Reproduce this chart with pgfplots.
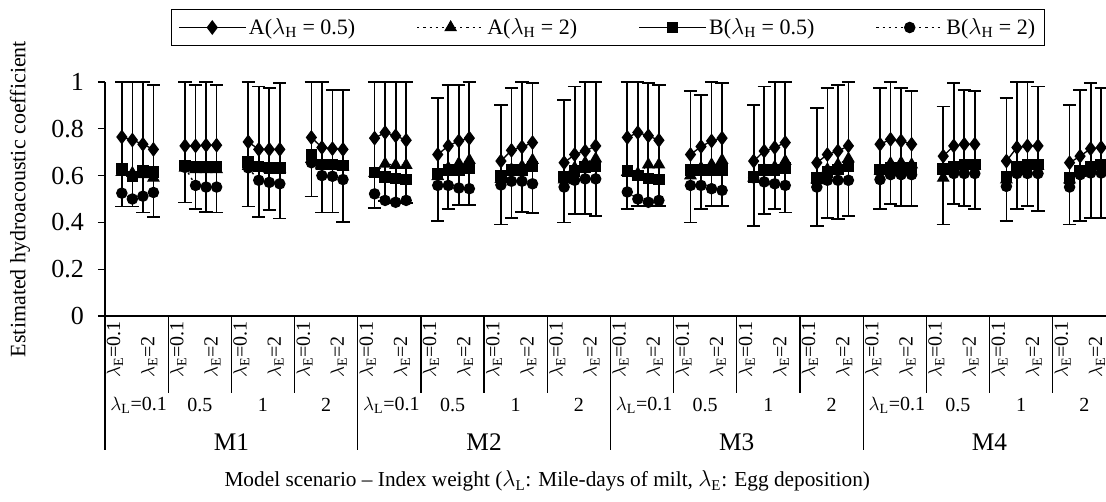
\documentclass[border=0pt]{standalone}
\usepackage{pgfplots}
\usepackage{pgfplotstable}
\pgfplotsset{compat=1.18}
\usepackage{fontspec}
\setmainfont{Liberation Serif}

\pgfplotstableread{
x A05 A2 B05 B2 lo hi
1.6 .765 .615 .630 .525 .468 1.0
2.6 .752 .610 .597 .500 .468 1.0
3.6 .734 .605 .619 .512 .442 1.0
4.6 .712 .590 .615 .528 .424 .988
5.0 nan nan nan nan nan nan
7.6 .727 .633 .643 .635 .485 1.0
8.6 .727 .626 .640 .558 .456 .988
9.6 .730 .626 .640 .551 .446 1.0
10.6 .730 .626 .640 .551 .442 .988
11.0 nan nan nan nan nan nan
13.6 .744 .640 .658 .633 .468 1.0
14.6 .712 .633 .640 .580 .424 .981
15.6 .712 .629 .633 .571 .453 .974
16.6 .712 .629 .633 .565 .417 .996
17.0 nan nan nan nan nan nan
19.6 .763 .670 .690 .655 .511 1.0
20.6 .720 .640 .647 .600 .442 1.0
21.6 .715 .640 .647 .597 .442 .967
22.6 .712 .637 .643 .583 .403 .967
23.0 nan nan nan nan nan nan
25.6 .760 .610 .614 .522 .463 1.0
26.6 .784 .650 .594 .494 .492 1.0
27.6 .770 .645 .587 .486 .482 1.0
28.6 .751 .645 .583 .494 .482 1.0
29.0 nan nan nan nan nan nan
31.6 .690 .597 .607 .558 .406 .931
32.6 .727 .633 .623 .558 .456 .988
33.6 .748 .652 .623 .547 .475 .988
34.6 .760 .666 .630 .544 .475 1.0
35.0 nan nan nan nan nan nan
37.6 .662 .585 .600 .560 .391 .902
38.6 .708 .626 .623 .576 .420 .974
39.6 .722 .640 .623 .576 .446 1.0
40.6 .741 .666 .640 .565 .439 .996
41.0 nan nan nan nan nan nan
43.6 .655 .583 .597 .551 .399 .924
44.6 .690 .633 .619 .580 .435 .981
45.6 .705 .655 .636 .586 .435 1.0
46.6 .727 .672 .640 .586 .427 1.0
47.0 nan nan nan nan nan nan
49.6 .763 .615 .619 .530 .456 1.0
50.6 .784 .609 .600 .500 .470 1.0
51.6 .770 .647 .587 .486 .470 .996
52.6 .751 .647 .583 .494 .470 .988
53.0 nan nan nan nan nan nan
55.6 .690 .600 .623 .558 .399 .960
56.6 .724 .633 .623 .558 .456 .945
57.6 .748 .647 .623 .544 .470 1.0
58.6 .760 .666 .623 .537 .470 .996
59.0 nan nan nan nan nan nan
61.6 .662 .590 .594 .590 .384 .902
62.6 .705 .626 .623 .573 .435 .981
63.6 .720 .637 .623 .565 .456 1.0
64.6 .741 .662 .633 .558 .442 1.0
65.0 nan nan nan nan nan nan
67.6 .655 .583 .590 .551 .384 .888
68.6 .690 .626 .616 .580 .420 .974
69.6 .705 .647 .626 .580 .413 .988
70.6 .727 .672 .640 .580 .427 1.0
71.0 nan nan nan nan nan nan
73.6 .734 .620 .626 .583 .456 .974
74.6 .755 .652 .633 .604 .478 1.0
75.6 .748 .655 .633 .604 .470 .974
76.6 .734 .647 .633 .604 .470 .960
77.0 nan nan nan nan nan nan
79.6 .683 .590 .629 .625 .391 .895
80.6 .727 .633 .640 .609 .478 .996
81.6 .734 .640 .647 .609 .470 .967
82.6 .734 .640 .647 .609 .456 .960
83.0 nan nan nan nan nan nan
85.6 .662 .583 .597 .554 .406 .931
86.6 .720 .633 .640 .609 .456 1.0
87.6 .727 .640 .647 .609 .470 1.0
88.6 .727 .640 .647 .609 .449 .981
89.0 nan nan nan nan nan nan
91.6 .655 .583 .590 .551 .391 .902
92.6 .683 .612 .619 .604 .406 .967
93.6 .715 .633 .640 .611 .420 .996
94.6 .720 .640 .647 .611 .420 .974
}\data

\begin{document}
\begin{tikzpicture}
\begin{axis}[
  scale only axis, width=750.75pt, height=175.5pt,
  xmin=0, xmax=95.06, ymin=0, ymax=1,
  axis lines*=left, axis line style={line width=1pt},
  xtick=\empty,
  ytick={0,0.2,0.4,0.6,0.8,1},
  tick align=outside, major tick length=5.25pt,
  tick style={line width=1pt, black},
  /pgf/number format/assume math mode=true,
  yticklabel style={font=\fontsize{19.5}{22}\selectfont, xshift=-7pt},
  clip=false,
  unbounded coords=jump,
  legend columns=4,
  legend style={at={(0.5025,1.2329)}, anchor=center, draw=black, line width=0.8pt,
    font=\fontsize{16.5}{19}\selectfont, inner xsep=5pt, inner ysep=5pt,
    /tikz/every even column/.append style={column sep=44pt}},
  legend image code/.code={\draw[mark repeat=2,mark phase=2] plot coordinates {(0pt,0pt)(25pt,0pt)(50pt,0pt)};},
  every axis plot/.append style={black, line width=1pt},
]
\addplot[draw=none, mark=none, forget plot,
  error bars/.cd, y dir=both, y explicit,
  error bar style={draw=black, solid, line width=1.3pt},
  error mark options={rotate=90, mark size=5pt, line width=1.3pt, draw=black}]
  table[x=x, y=lo, y error plus expr={\thisrow{hi}-\thisrow{lo}}, y error minus expr={0}] {\data};

\addplot[solid, mark=diamond*, mark size=4.8pt, mark options={solid}] table[x=x, y=A05] {\data};
\addlegendentry{A(\(\lambda_{\mathrm{H}}\) = 0.5)}
\addplot[dash pattern=on 1.6pt off 3pt, mark=triangle*, mark size=4.6pt, mark options={solid}] table[x=x, y=A2] {\data};
\addlegendentry{A(\(\lambda_{\mathrm{H}}\) = 2)}
\addplot[solid, mark=square*, mark size=3.8pt, mark options={solid}] table[x=x, y=B05] {\data};
\addlegendentry{B(\(\lambda_{\mathrm{H}}\) = 0.5)}
\addplot[dash pattern=on 1.6pt off 3pt, mark=*, mark size=3.8pt, mark options={solid}] table[x=x, y=B2] {\data};
\addlegendentry{B(\(\lambda_{\mathrm{H}}\) = 2)}

% category table below the axis
\pgfplotsinvokeforeach{1,...,15}{
  \draw[line width=1pt] (axis cs:{6*#1},0) -- ++(0,-57.75pt);
  \node[rotate=90, anchor=west, font=\fontsize{15}{17}\selectfont, inner sep=0pt] at ([yshift=-46.5pt]axis cs:{6*#1+0.95},0) {\(\lambda_{\mathrm{E}}\)=0.1};
  \node[rotate=90, anchor=west, font=\fontsize{15}{17}\selectfont, inner sep=0pt] at ([yshift=-46.5pt]axis cs:{6*#1+4.2},0) {\(\lambda_{\mathrm{E}}\)=2};
}
\node[rotate=90, anchor=west, font=\fontsize{15}{17}\selectfont, inner sep=0pt] at ([yshift=-46.5pt]axis cs:0.95,0) {\(\lambda_{\mathrm{E}}\)=0.1};
\node[rotate=90, anchor=west, font=\fontsize{15}{17}\selectfont, inner sep=0pt] at ([yshift=-46.5pt]axis cs:4.2,0) {\(\lambda_{\mathrm{E}}\)=2};
\pgfplotsinvokeforeach{0,1,2,3}{
  \draw[line width=1pt] (axis cs:{24*#1},0) -- ++(0,-100.5pt);
  \node[font=\fontsize{15}{17}\selectfont] at ([yshift=-66.75pt]axis cs:{24*#1+3.2},0) {\(\lambda_{\mathrm{L}}\)=0.1};
  \node[font=\fontsize{15}{17}\selectfont] at ([yshift=-66.75pt]axis cs:{24*#1+9},0) {0.5};
  \node[font=\fontsize{15}{17}\selectfont] at ([yshift=-66.75pt]axis cs:{24*#1+15},0) {1};
  \node[font=\fontsize{15}{17}\selectfont] at ([yshift=-66.75pt]axis cs:{24*#1+21},0) {2};
  \node[font=\fontsize{19}{22}\selectfont] at ([yshift=-94.5pt]axis cs:{24*#1+12},0) {M\the\numexpr#1+1\relax};
}
\node[font=\fontsize{16}{19}\selectfont] at ([yshift=-123.75pt]axis cs:42,0) {Model scenario -- Index weight (\(\lambda_{\mathrm{L}}\): Mile-days of milt, \(\lambda_{\mathrm{E}}\): Egg deposition)};
\node[rotate=90, font=\fontsize{16.5}{19}\selectfont] at (axis description cs:-0.085,0.5) {Estimated hydroacoustic coefficient};
\end{axis}
\pgfresetboundingbox
\path[use as bounding box] (-78.75pt,-139.5pt) rectangle (750.75pt,237pt);
\end{tikzpicture}
\end{document}
